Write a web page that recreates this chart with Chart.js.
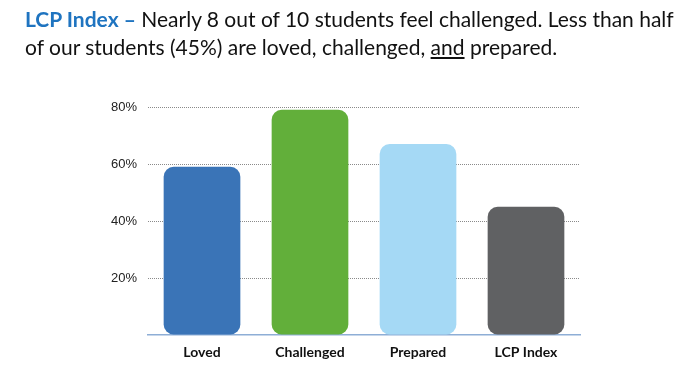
<!DOCTYPE html>
<html>
<head>
<meta charset="utf-8">
<script src="https://cdn.jsdelivr.net/npm/chart.js@4"></script>
<style>
    body { margin: 0; background: #fff; }
    #wrap { position: relative; width: 696px; height: 380px; }
    #title {
        position: absolute; left: 25px; top: 5px; width: 655px;
        font-family: Lato, sans-serif; font-size: 21px; line-height: 28px; color: #111;
    }
    #title b { color: #1f74c0; }
    #chart { position: absolute; left: 0; top: 0; }
</style>
</head>
<body>
<div id="wrap">
    <canvas id="chart" width="696" height="380"></canvas>
    <div id="title"><b>LCP Index –</b> Nearly 8 out of 10 students feel challenged. Less than half of our students (45%) are loved, challenged, <u>and</u> prepared.</div>
</div>
<script>
// Chart data
const categories = ['Loved', 'Challenged', 'Prepared', 'LCP Index'];
const percentValues = [59, 79, 67, 45];
const barColors = ['#3a74b7', '#62af3a', '#a5d9f5', '#606163'];
const tickValues = [0, 20, 40, 60, 80];

const ctx = document.getElementById('chart').getContext('2d');

new Chart(ctx, {
    type: 'bar',
    data: {
        labels: categories,
        datasets: [{
            data: percentValues,
            backgroundColor: barColors,
            borderRadius: 10,
            borderSkipped: false,
            categoryPercentage: 1,
            barPercentage: 0.71
        }]
    },
    options: {
        responsive: false,
        animation: false,
        layout: { padding: { left: 0, right: 116, top: 107, bottom: 0 } },
        plugins: { legend: { display: false }, tooltip: { enabled: false } },
        scales: {
            x: {
                grid: { display: false, drawTicks: false },
                border: { display: true, color: '#8eaed6', width: 1.5 },
                ticks: {
                    color: '#111',
                    padding: 9,
                    font: { family: 'Lato', size: 14, weight: 'bold' }
                },
                afterFit: scale => { scale.height = 45; }
            },
            y: {
                min: 0,
                max: 80,
                afterBuildTicks: scale => { scale.ticks = tickValues.map(v => ({ value: v })); },
                afterFit: scale => { scale.width = 148; },
                border: { display: false, dash: [1, 1] },
                grid: {
                    drawTicks: false,
                    color: c => c.tick.value === 0 ? 'rgba(0,0,0,0)' : '#8a8a8a',
                    lineWidth: 1
                },
                ticks: {
                    padding: 11,
                    color: '#222',
                    font: { family: 'Liberation Sans', size: 13 },
                    callback: v => v === 0 ? '' : v + '%'
                }
            }
        }
    }
});
</script>
</body>
</html>
